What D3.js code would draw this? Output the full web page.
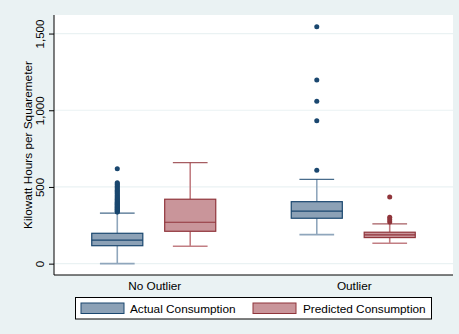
<!DOCTYPE html>
<html><head><meta charset="utf-8">
<script src="https://cdn.jsdelivr.net/npm/d3@7"></script>
<style>html,body{margin:0;padding:0;background:#eaf2f3;}svg{display:block;font-family:"Liberation Sans",Arial,sans-serif;}</style>
</head><body><svg id="c" width="459" height="334"></svg>
<script>
const groups = ["No Outlier", "Outlier"];
const seriesNames = ["Actual Consumption", "Predicted Consumption"];
// box stats per group: lowWhisker, q1, median, q3, highWhisker
const actualStats = [
  {lw: 0, q1: 117, med: 153, q3: 198, hw: 329},
  {lw: 189, q1: 296, med: 342, q3: 404, hw: 550}
];
const predictedStats = [
  {lw: 113, q1: 211, med: 270, q3: 420, hw: 658},
  {lw: 133, q1: 170, med: 187, q3: 205, hw: 259}
];
const actualOutliers = [
  [336, 340, 345, 349, 354, 358, 363, 368, 373, 378, 383, 388, 393, 398, 404, 410, 416, 422, 428, 434, 441, 448, 455, 462, 470, 478, 486, 494, 503, 512, 520, 528, 619],
  [609, 932, 1059, 1197, 1545]
];
const predictedOutliers = [
  [],
  [272, 287, 302, 435]
];
const yTicks = [0, 500, 1000, 1500];

const svg = d3.select("#c");
const plot = {l: 54, r: 453, t: 15, b: 275};

const y = d3.scaleLinear().domain([-74, 1621]).range([plot.b, plot.t]);
const x = d3.scaleBand().domain(groups).range([plot.l, plot.r]).paddingInner(0).paddingOuter(0);
const sub = d3.scaleBand().domain(seriesNames).range([-62, 62]).paddingInner(0.3).paddingOuter(0);

// plot region
svg.append("rect").attr("x", plot.l).attr("y", plot.t).attr("width", plot.r - plot.l).attr("height", plot.b - plot.t).attr("fill", "#ffffff");

// grid
svg.append("g").selectAll("line").data(yTicks).join("line")
  .attr("x1", plot.l).attr("x2", plot.r)
  .attr("y1", d => y(d)).attr("y2", d => y(d))
  .attr("stroke", "#eaf2f3").attr("stroke-width", 1.2);

// y axis
const yAxis = d3.axisLeft(y).tickValues(yTicks).tickSize(5).tickFormat(d3.format(","));
const ga = svg.append("g").attr("transform", `translate(${plot.l},0)`).call(yAxis);
ga.select(".domain").attr("d", `M0,${plot.t}V${plot.b}`).attr("stroke", "#000");
ga.selectAll(".tick line").attr("stroke", "#000");
ga.selectAll(".tick text")
  .attr("transform", "translate(-10,0) rotate(-90)")
  .attr("x", 0).attr("y", 0).attr("dy", 0)
  .attr("text-anchor", "middle")
  .attr("font-size", 11.5).attr("fill", "#000")
  .attr("font-family", "Liberation Sans, Arial, sans-serif");

// x axis line
svg.append("line").attr("x1", plot.l).attr("x2", plot.r).attr("y1", plot.b).attr("y2", plot.b).attr("stroke", "#000");

// y title
svg.append("text").attr("transform", `translate(32,${(plot.t + plot.b) / 2}) rotate(-90)`)
  .attr("text-anchor", "middle").attr("font-size", 11.8).text("Kilowatt Hours per Squaremeter");

// x labels
svg.append("g").selectAll("text").data(groups).join("text")
  .attr("x", d => x(d) + x.bandwidth() / 2 + 1).attr("y", 290)
  .attr("text-anchor", "middle").attr("font-size", 11.8).text(d => d);

const styles = {
  "Actual Consumption": {fill: "#8ca1b6", stroke: "#1a476f", light: "#8fa6bc", stats: actualStats, outs: actualOutliers},
  "Predicted Consumption": {fill: "#c9959a", stroke: "#90353b", light: "#c27e83", stats: predictedStats, outs: predictedOutliers}
};

seriesNames.forEach(s => {
  const st = styles[s];
  groups.forEach((g, gi) => {
    const d = st.stats[gi];
    const cx = x(g) + x.bandwidth() / 2 + sub(s) + sub.bandwidth() / 2;
    const bw = sub.bandwidth();
    const cap = bw * 0.68;
    const gg = svg.append("g");
    gg.append("line").attr("x1", cx).attr("x2", cx).attr("y1", y(d.q3)).attr("y2", y(d.hw)).attr("stroke", st.light).attr("stroke-width", 1.6);
    gg.append("line").attr("x1", cx).attr("x2", cx).attr("y1", y(d.q1)).attr("y2", y(d.lw)).attr("stroke", st.light).attr("stroke-width", 1.6);
    gg.append("line").attr("x1", cx - cap / 2).attr("x2", cx + cap / 2).attr("y1", y(d.hw)).attr("y2", y(d.hw)).attr("stroke", st.stroke).attr("stroke-width", 1.2).attr("stroke-opacity", 0.8);
    gg.append("line").attr("x1", cx - cap / 2).attr("x2", cx + cap / 2).attr("y1", y(d.lw)).attr("y2", y(d.lw)).attr("stroke", st.light).attr("stroke-width", 1.6);
    gg.append("rect").attr("x", cx - bw / 2).attr("y", y(d.q3)).attr("width", bw).attr("height", y(d.q1) - y(d.q3))
      .attr("fill", st.fill).attr("stroke", st.stroke).attr("stroke-width", 1.2);
    gg.append("line").attr("x1", cx - bw / 2).attr("x2", cx + bw / 2).attr("y1", y(d.med)).attr("y2", y(d.med)).attr("stroke", st.stroke).attr("stroke-width", 1.2);
    gg.selectAll("path.o").data(st.outs[gi]).join("path").attr("class", "o")
      .attr("d", d3.symbol(d3.symbolCircle, 20)())
      .attr("transform", v => `translate(${cx},${y(v)})`)
      .attr("fill", st.stroke);
  });
});

// legend
const lg = svg.append("g");
lg.append("rect").attr("x", 75.5).attr("y", 297.5).attr("width", 356).attr("height", 21.5).attr("fill", "#fff").attr("stroke", "#000").attr("stroke-width", 1);
const legX = [[81, 130], [253, 303]];
seriesNames.forEach((s, i) => {
  lg.append("rect").attr("x", legX[i][0]).attr("y", 303).attr("width", 43).attr("height", 10.5)
    .attr("fill", styles[s].fill).attr("stroke", styles[s].stroke).attr("stroke-width", 1);
  lg.append("text").attr("x", legX[i][1]).attr("y", 312.5).attr("font-size", 11.8).text(s);
});
</script></body></html>
